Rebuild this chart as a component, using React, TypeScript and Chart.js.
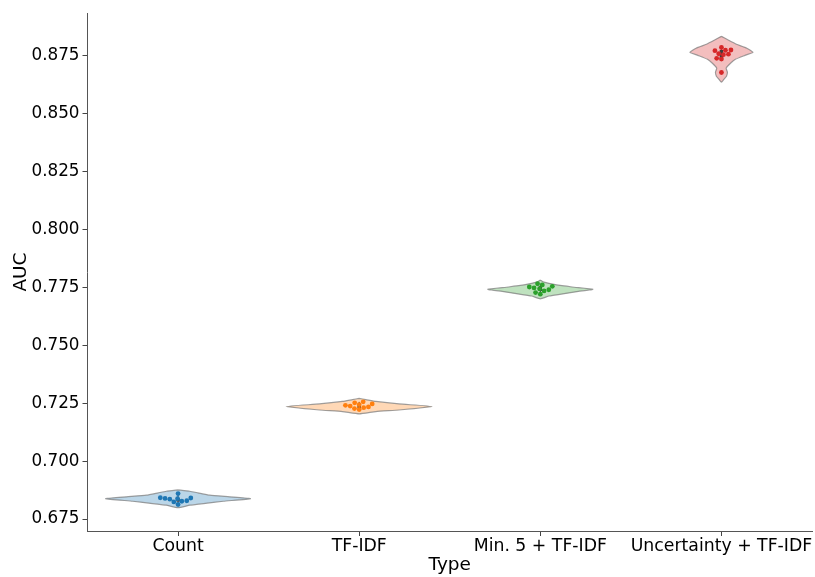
import React, { useEffect, useRef } from "react";
import { Chart, registerables } from "chart.js";

Chart.register(...registerables);

// ---------- data ----------
const categories = ["Count", "TF-IDF", "Min. 5 + TF-IDF", "Uncertainty + TF-IDF"];
const yTicks = [0.675, 0.7, 0.725, 0.75, 0.775, 0.8, 0.825, 0.85, 0.875];
const yTickLabels = ["0.675", "0.700", "0.725", "0.750", "0.775", "0.800", "0.825", "0.850", "0.875"];

// individual fold scores (swarm points)
const countScores = [0.686, 0.6842, 0.6839, 0.6836, 0.6838, 0.6841, 0.6827, 0.6829, 0.6824, 0.6813];
const tfidfScores = [0.7256, 0.7252, 0.7241, 0.7238, 0.7244, 0.7234, 0.7247, 0.7227, 0.7223, 0.7231];
const min5Scores = [0.7766, 0.7761, 0.7755, 0.7752, 0.7748, 0.7744, 0.774, 0.7735, 0.7728, 0.7721];
const uncertScores = [0.8786, 0.8772, 0.8775, 0.8774, 0.8757, 0.8759, 0.8755, 0.8739, 0.8736, 0.8678];

// violin outlines: AUC levels (top to bottom) and half-widths (category units)
const countLevels = [0.6876, 0.687, 0.6863, 0.6853, 0.6846, 0.6838, 0.6827, 0.6817, 0.681, 0.6799];
const countWidths = [0, 0.065, 0.11, 0.175, 0.285, 0.4, 0.25, 0.14, 0.065, 0];
const tfidfLevels = [0.7271, 0.7266, 0.7258, 0.7247, 0.7236, 0.7221, 0.7214, 0.7204];
const tfidfWidths = [0, 0.037, 0.092, 0.22, 0.404, 0.22, 0.092, 0];
const min5Levels = [0.7782, 0.7773, 0.7762, 0.7752, 0.7742, 0.7733, 0.7724, 0.7713, 0.7701];
const min5Widths = [0, 0.02, 0.083, 0.176, 0.29, 0.21, 0.14, 0.048, 0];
const uncertLevels = [0.8834, 0.8817, 0.88, 0.8783, 0.8765, 0.8752, 0.8735, 0.8718, 0.8697, 0.8679, 0.8662, 0.8649, 0.8636];
const uncertWidths = [0, 0.04, 0.083, 0.14, 0.174, 0.13, 0.077, 0.05, 0.026, 0.033, 0.028, 0.014, 0];

// inner box: q1, q3, whisker low, whisker high
const boxQ1 = [0.6826, 0.723, 0.7735, 0.874];
const boxQ3 = [0.6841, 0.7246, 0.7755, 0.8775];
const whiskLow = [0.6813, 0.7223, 0.7721, 0.8736];
const whiskHigh = [0.686, 0.7256, 0.7766, 0.8786];

const pointColors = ["#1f77b4", "#ff7f0e", "#2ca02c", "#d62728"];
const fillColors = ["rgba(31,119,180,0.3)", "rgba(255,127,14,0.3)", "rgba(44,160,44,0.3)", "rgba(214,39,40,0.3)"];

const allScores = [countScores, tfidfScores, min5Scores, uncertScores];
const allLevels = [countLevels, tfidfLevels, min5Levels, uncertLevels];
const allWidths = [countWidths, tfidfWidths, min5Widths, uncertWidths];

const FONT = "'DejaVu Sans', sans-serif";
const POINT_R = 2.4;

function violinPath(center: number, levels: number[], widths: number[]) {
  const pts: { x: number; y: number }[] = [];
  for (let i = 0; i < levels.length; i++) pts.push({ x: center + widths[i], y: levels[i] });
  for (let i = levels.length - 2; i >= 1; i--) pts.push({ x: center - widths[i], y: levels[i] });
  pts.push({ x: center + widths[0], y: levels[0] });
  return pts;
}

function swarm(chart: any, values: number[], center: number) {
  const xs = chart.scales.x;
  const ys = chart.scales.y;
  const cx = xs.getPixelForValue(center);
  const order = values.map((_, i) => i).sort((a, b) => values[a] - values[b]);
  const placed: { x: number; y: number }[] = [];
  const out: { x: number; y: number }[] = new Array(values.length);
  const d = POINT_R * 2;
  for (const i of order) {
    const py = ys.getPixelForValue(values[i]);
    let best = cx;
    for (let k = 0; k < 400; k++) {
      const off = k === 0 ? 0 : (k % 2 ? -1 : 1) * Math.ceil(k / 2) * 0.25;
      const px = cx + off;
      if (placed.every((p) => (p.x - px) ** 2 + (p.y - py) ** 2 >= d * d - 0.01)) {
        best = px;
        break;
      }
    }
    placed.push({ x: best, y: py });
    out[i] = { x: xs.getValueForPixel(best), y: values[i] };
  }
  return out;
}

export default function App() {
  const ref = useRef<HTMLCanvasElement>(null);

  useEffect(() => {
    document.body.style.margin = "0";
    const canvas = ref.current;
    if (!canvas) return;

    const datasets: any[] = [];
    // violins
    categories.forEach((_, c) => {
      datasets.push({
        type: "line",
        data: violinPath(c, allLevels[c], allWidths[c]),
        backgroundColor: fillColors[c],
        borderColor: "rgba(120,120,120,0.7)",
        borderWidth: 1.2,
        fill: "shape",
        pointRadius: 0,
        tension: 0.15,
        order: 3,
      });
    });
    // inner box (IQR) and whiskers
    categories.forEach((_, c) => {
      datasets.push({
        type: "line",
        data: [
          { x: c, y: whiskLow[c] },
          { x: c, y: whiskHigh[c] },
        ],
        borderColor: "#3d3d3d",
        borderWidth: 1,
        pointRadius: 0,
        fill: false,
        order: 2,
      });
      datasets.push({
        type: "line",
        data: [
          { x: c, y: boxQ1[c] },
          { x: c, y: boxQ3[c] },
        ],
        borderColor: "#3d3d3d",
        borderWidth: 3.5,
        pointRadius: 0,
        fill: false,
        order: 2,
      });
    });
    // points
    const pointIdx: number[] = [];
    categories.forEach((_, c) => {
      pointIdx.push(datasets.length);
      datasets.push({
        type: "scatter",
        data: allScores[c].map((v) => ({ x: c, y: v })),
        backgroundColor: pointColors[c],
        borderWidth: 0,
        pointRadius: POINT_R,
        pointHoverRadius: POINT_R,
        order: 1,
      });
    });

    const chart = new Chart(canvas, {
      type: "scatter",
      data: { datasets },
      options: {
        animation: false,
        responsive: false,
        maintainAspectRatio: false,
        events: [],
        layout: { padding: { top: 10, right: 3, left: 0, bottom: 0 } },
        plugins: { legend: { display: false }, tooltip: { enabled: false } },
        scales: {
          x: {
            type: "linear",
            min: -0.5,
            max: 3.5,
            afterBuildTicks: (s: any) => {
              s.ticks = categories.map((_, i) => ({ value: i }));
            },
            afterFit: (s: any) => {
              s.height = 46;
            },
            ticks: {
              callback: (v: any) => categories[Math.round(Number(v))] ?? "",
              color: "#000",
              font: { family: FONT, size: 17.3 },
              padding: 0,
              maxRotation: 0,
              autoSkip: false,
            },
            grid: { drawOnChartArea: false, drawTicks: true, tickLength: 5, color: "#444" },
            border: { display: true, color: "#555", width: 1 },
            title: {
              display: true,
              text: "Type",
              color: "#000",
              font: { family: FONT, size: 18.5 },
              padding: { top: 0, bottom: 1 },
            },
          },
          y: {
            type: "linear",
            min: 0.66985,
            max: 0.89345,
            afterBuildTicks: (s: any) => {
              s.ticks = yTicks.map((v) => ({ value: v }));
            },
            afterFit: (s: any) => {
              s.width = 87.5;
            },
            ticks: {
              callback: (v: any) => {
                const i = yTicks.findIndex((t) => Math.abs(t - Number(v)) < 1e-6);
                return i >= 0 ? yTickLabels[i] : "";
              },
              color: "#000",
              font: { family: FONT, size: 16.8 },
              padding: 3,
              autoSkip: false,
            },
            grid: { drawOnChartArea: false, drawTicks: true, tickLength: 5, color: "#444" },
            border: { display: true, color: "#555", width: 1 },
            title: {
              display: true,
              text: "AUC",
              color: "#000",
              font: { family: FONT, size: 18.5 },
              padding: { top: 10, bottom: 0 },
            },
          },
        },
      },
    });

    pointIdx.forEach((di, c) => {
      chart.data.datasets[di].data = swarm(chart, allScores[c], c) as any;
    });
    chart.update("none");

    return () => chart.destroy();
  }, []);

  return <canvas ref={ref} width={815} height={577} style={{ display: "block" }} />;
}
